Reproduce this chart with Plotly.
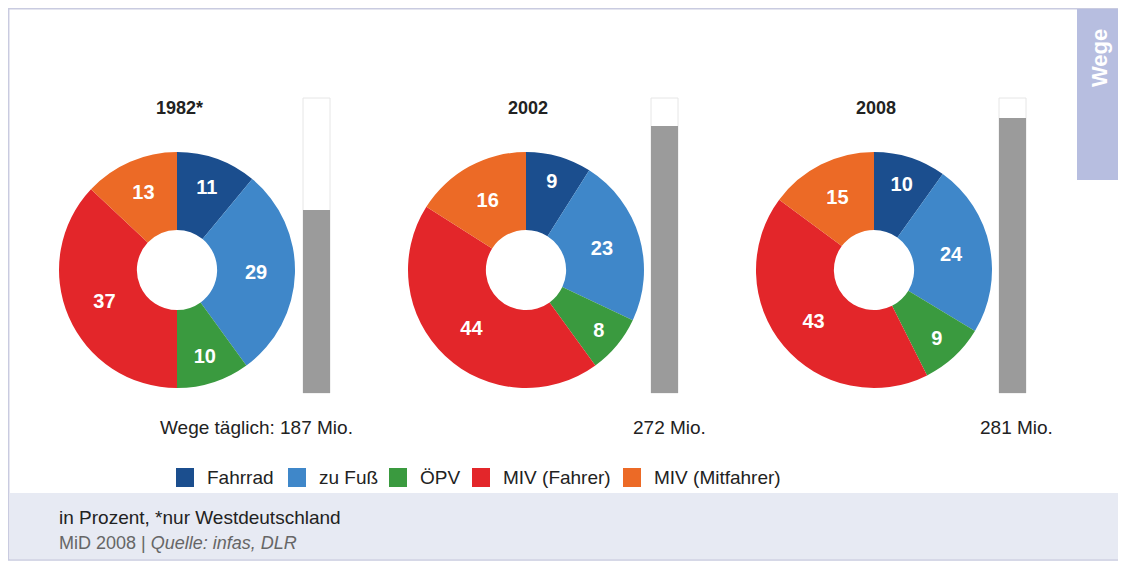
"""
Modal split (Wege) donut charts, MiD 2008.
"""
import plotly.graph_objects as go

years = ["1982*", "2002", "2008"]
modes = ["Fahrrad", "zu Fuß", "ÖPV", "MIV (Fahrer)", "MIV (Mitfahrer)"]
shares_1982 = [11, 29, 10, 37, 13]
shares_2002 = [9, 23, 8, 44, 16]
shares_2008 = [10, 24, 9, 43, 15]
trips_mio = [187, 272, 281]

colors = ["#1b4e8e", "#3f87c9", "#3a9a3f", "#e3262a", "#ec6a26"]
font = "Liberation Sans, Arial, sans-serif"

# the page has an 8px body margin, so the figure is drawn 8px in from the window edge
OFF = 8
W, H = 1126 - OFF, 562 - OFF


def px(x):
    return (x - OFF) / W


def py(y):
    return (H - (y - OFF)) / H


def note(x, y, text, size=19, color="#222", xanchor="center", **kw):
    return dict(x=px(x), y=py(y), xref="paper", yref="paper", text=text, showarrow=False,
                xanchor=xanchor, yanchor="middle", font=dict(size=size, color=color, family=font), **kw)


fig = go.Figure()

# frame, footer band, side tab
shapes = [
    dict(type="rect", xref="paper", yref="paper", x0=px(8.7), x1=px(1121), y0=py(560), y1=py(8.7),
         line=dict(color="#c9cbe0", width=1.5), fillcolor="white", layer="below"),
    dict(type="rect", xref="paper", yref="paper", x0=px(9.5), x1=px(1120), y0=py(559), y1=py(493),
         line=dict(width=0), fillcolor="#e7eaf3", layer="below"),
    dict(type="rect", xref="paper", yref="paper", x0=px(1077), x1=px(1121), y0=py(180), y1=py(9),
         line=dict(width=0), fillcolor="#b7bee0", layer="below"),
]

centers = [177, 526, 874]
bar_left = [303, 651, 999]
label_right = [355, 708, 1055]
radius = 118
all_shares = [shares_1982, shares_2002, shares_2008]

annotations = []
for i, (yr, vals) in enumerate(zip(years, all_shares)):
    cx = centers[i]
    fig.add_trace(go.Pie(
        labels=modes,
        values=vals,
        hole=0.34,
        sort=False,
        direction="clockwise",
        rotation=0,
        marker=dict(colors=colors, line=dict(width=0)),
        texttemplate="<b>%{value}</b>",
        textposition="inside",
        insidetextorientation="horizontal",
        textfont=dict(color="white", size=20, family=font),
        domain=dict(x=[px(cx - radius), px(cx + radius)], y=[py(270 + radius), py(270 - radius)]),
        showlegend=False,
        hoverinfo="label+value",
    ))
    annotations.append(note(cx + 2, 108, f"<b>{yr}</b>", size=18))

    # bar for daily trips
    ax = "" if i == 0 else str(i + 1)
    fig.add_trace(go.Bar(
        x=[yr], y=[trips_mio[i]], xaxis="x" + ax, yaxis="y" + ax,
        marker=dict(color="#9b9b9b", line=dict(width=0)), showlegend=False,
        hovertemplate=f"{trips_mio[i]} Mio.<extra></extra>",
    ))
    x0, x1 = px(bar_left[i]), px(bar_left[i] + 27)
    fig.update_layout(**{
        "xaxis" + ax: dict(domain=[x0, x1], visible=False, fixedrange=True),
        "yaxis" + ax: dict(domain=[py(393), py(98)], range=[0, 301], visible=False,
                           anchor="x" + ax, fixedrange=True),
    })
    shapes.append(dict(type="rect", xref="paper", yref="paper", x0=x0, x1=x1, y0=py(393), y1=py(98),
                       line=dict(color="#e6e6e6", width=1), layer="below"))

    label = f"{trips_mio[i]} Mio."
    if i == 0:
        label = "Wege täglich: " + label
    annotations.append(note(label_right[i], 427, label, xanchor="right"))

# legend drawn by hand (bigger squares than plotly's pie legend)
legend_left = [176, 288, 389, 472, 623]
for left, name, col in zip(legend_left, modes, colors):
    shapes.append(dict(type="rect", xref="paper", yref="paper", x0=px(left), x1=px(left + 18),
                       y0=py(487), y1=py(468), line=dict(width=0), fillcolor=col))
    annotations.append(note(left + 29, 477, name, xanchor="left"))

annotations += [
    note(1100, 58, "<b>Wege</b>", size=22, color="white", textangle=-90),
    note(57, 517, "in Prozent, *nur Westdeutschland", xanchor="left"),
    note(57, 543, "MiD 2008 | <i>Quelle: infas, DLR</i>", size=18, color="#666", xanchor="left"),
]

fig.update_layout(
    width=W, height=H,
    margin=dict(l=0, r=0, t=0, b=0),
    paper_bgcolor="white",
    plot_bgcolor="rgba(0,0,0,0)",
    bargap=0,
    showlegend=False,
    shapes=shapes,
    annotations=annotations,
)

fig.write_html("out.html")
